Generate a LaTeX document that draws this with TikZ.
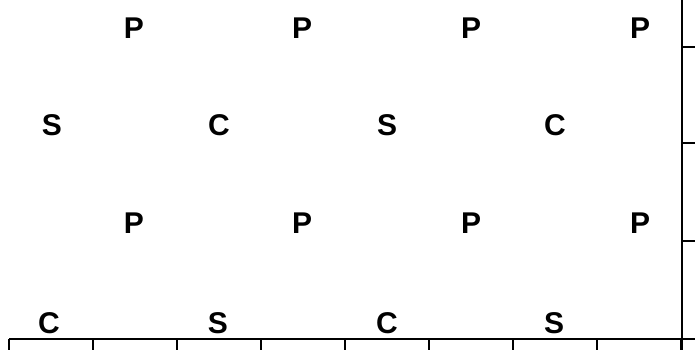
\documentclass[tikz,border=0pt]{standalone}
\usepackage{fontspec}
\setmainfont{Liberation Sans}
\usepackage{tikz}
\usetikzlibrary{positioning}

\begin{document}
\begin{tikzpicture}[
    x=1pt, y=1pt,
    site/.style={font=\fontsize{30}{33}\selectfont\bfseries, inner sep=0pt},
    axis/.style={line width=2pt, color=black}
]
\useasboundingbox (0,0) rectangle (695,350);

% Top row - P sites
\node[site] (p1) at (134,322) {P};
\node[site] (p2) at (302,322) {P};
\node[site] (p3) at (471,322) {P};
\node[site] (p4) at (640,322) {P};

% Second row - S and C
\node[site] (s1) at (52,225) {S};
\node[site] (c1) at (219,225) {C};
\node[site] (s2) at (387,225) {S};
\node[site] (c2) at (555,225) {C};

% Third row - P sites
\node[site] (p5) at (134,127) {P};
\node[site] (p6) at (302,127) {P};
\node[site] (p7) at (471,127) {P};
\node[site] (p8) at (640,127) {P};

% Bottom row - C and S
\node[site] (c3) at (49,27) {C};
\node[site] (s3) at (218,27) {S};
\node[site] (c4) at (387,27) {C};
\node[site] (s4) at (554,27) {S};

% Axes
\coordinate (xstart) at (9,11);
\coordinate (xend) at (695,11);
\coordinate (ytop) at (682,350);
\coordinate (ybot) at (682,0);
\draw[axis] (xstart) -- (xend);
\draw[axis] (ytop) -- (ybot);

% Ticks
\foreach \k in {0,...,8}
    \draw[axis] (9+84*\k,11) -- ++(0,-11);
\foreach \y in {109,207,303}
    \draw[axis] (682,\y) -- ++(13,0);

\end{tikzpicture}
\end{document}
